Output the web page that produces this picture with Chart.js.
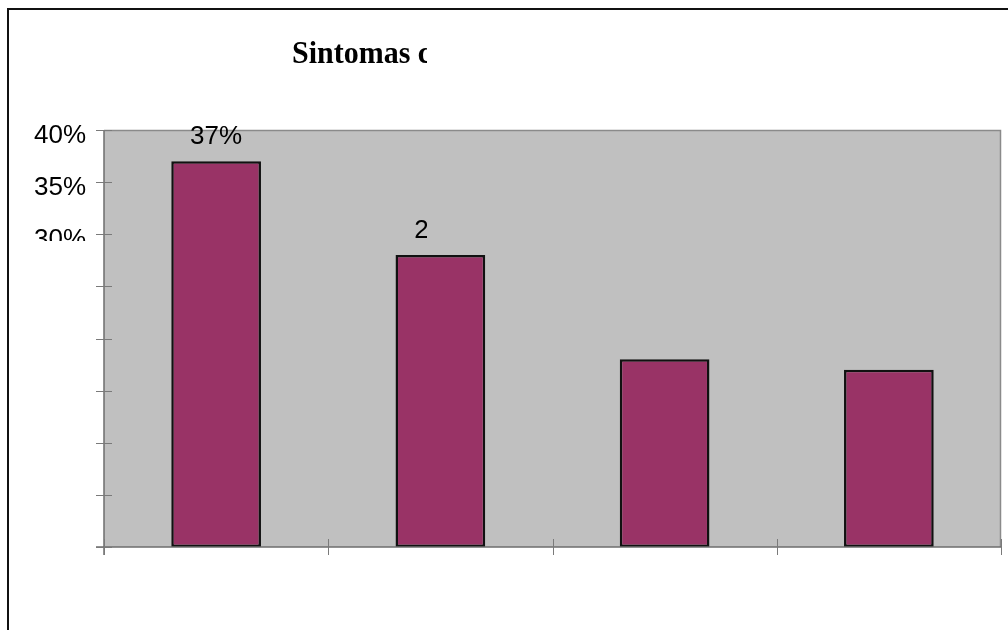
<!DOCTYPE html>
<html>
<head>
<meta charset="utf-8">
<script src="https://cdn.jsdelivr.net/npm/chart.js@4"></script>
<style>
  html, body { margin: 0; padding: 0; background: #fff; }
  #wrap { width: 1008px; height: 630px; }
</style>
</head>
<body>
<div id="wrap"><canvas id="chart" width="1008" height="630"></canvas></div>
<script>
// Gráfico de barras de sintomas (percentual)
const chartTitle = 'Sintomas comuns';
const categories = ['Sintoma 1', 'Sintoma 2', 'Sintoma 3', 'Sintoma 4'];
const values = [37, 28, 18, 17];
const yTicks = [0, 5, 10, 15, 20, 25, 30, 35, 40];

const pct = (v) => `${v}%`;

// a área de texto visível termina aqui (título, eixo e rótulos cortados)
const TEXT_CLIP = { x: 0, y: 0, w: 427, h: 241 };

const frame = {
  id: 'frame',
  beforeDraw(chart) {
    const { ctx, chartArea: a } = chart;
    ctx.save();
    ctx.fillStyle = '#fff';
    ctx.fillRect(0, 0, chart.width, chart.height);
    ctx.strokeStyle = '#111';
    ctx.lineWidth = 2;
    ctx.strokeRect(8, 9, chart.width + 20, chart.height + 20);
    ctx.fillStyle = '#c0c0c0';
    ctx.fillRect(a.left, a.top, a.right - a.left, a.bottom - a.top);
    ctx.restore();
  },
  afterDatasetsDraw(chart) {
    const { ctx, chartArea: a } = chart;
    const y = chart.scales.y;
    ctx.save();

    // borda da área do gráfico
    ctx.strokeStyle = '#8a8a8a';
    ctx.lineWidth = 1.5;
    ctx.beginPath();
    ctx.moveTo(a.left, a.top + 0.5);
    ctx.lineTo(a.right - 0.5, a.top + 0.5);
    ctx.lineTo(a.right - 0.5, a.bottom);
    ctx.stroke();

    // eixos
    ctx.strokeStyle = '#6e6e6e';
    ctx.lineWidth = 1.5;
    ctx.beginPath();
    ctx.moveTo(a.left, a.top);
    ctx.lineTo(a.left, a.bottom + 8);
    ctx.moveTo(a.left - 8, a.bottom);
    ctx.lineTo(a.right, a.bottom);
    ctx.stroke();

    // marcas do eixo Y
    ctx.strokeStyle = '#7a7a7a';
    ctx.lineWidth = 1;
    ctx.beginPath();
    y.ticks.forEach((t) => {
      const py = Math.round(y.getPixelForValue(t.value)) + 0.5;
      ctx.moveTo(a.left - 8, py);
      ctx.lineTo(a.left + 8, py);
    });
    // marcas do eixo X nos limites das categorias
    const step = (a.right - a.left) / categories.length;
    for (let i = 0; i <= categories.length; i++) {
      const px = Math.round(a.left + i * step) + 0.5;
      ctx.moveTo(px, a.bottom - 8);
      ctx.lineTo(px, a.bottom + 8);
    }
    ctx.stroke();

    // textos, recortados
    ctx.beginPath();
    ctx.rect(TEXT_CLIP.x, TEXT_CLIP.y, TEXT_CLIP.w, TEXT_CLIP.h);
    ctx.clip();

    ctx.fillStyle = '#000';
    ctx.save();
    ctx.translate(292, 63);
    ctx.scale(1.0, 1.04);
    ctx.font = 'bold 30px "Liberation Serif"';
    ctx.textAlign = 'left';
    ctx.textBaseline = 'alphabetic';
    ctx.fillText(chartTitle, 0, 0);
    ctx.restore();

    ctx.font = '26px "Liberation Sans"';
    ctx.textAlign = 'right';
    ctx.textBaseline = 'alphabetic';
    y.ticks.forEach((t) => {
      ctx.fillText(pct(t.value), 86, y.getPixelForValue(t.value) + 13);
    });

    ctx.textAlign = 'center';
    chart.getDatasetMeta(0).data.forEach((bar, i) => {
      ctx.fillText(pct(values[i]), bar.x, bar.y - 17);
    });

    ctx.restore();
  },
};

new Chart(document.getElementById('chart'), {
  type: 'bar',
  data: {
    labels: categories,
    datasets: [{
      data: values,
      backgroundColor: '#993366',
      borderColor: '#111',
      borderWidth: 2.5,
      borderSkipped: false,
      barPercentage: 0.4,
      categoryPercentage: 1.0,
    }],
  },
  options: {
    responsive: false,
    animation: false,
    layout: { padding: { left: 104, top: 130, right: 7, bottom: 83 } },
    plugins: { legend: { display: false }, tooltip: { enabled: false } },
    scales: {
      x: { display: false, offset: true },
      y: {
        display: false,
        min: 0,
        max: 40,
        afterBuildTicks: (scale) => { scale.ticks = yTicks.map((v) => ({ value: v })); },
      },
    },
  },
  plugins: [frame],
});
</script>
</body>
</html>
